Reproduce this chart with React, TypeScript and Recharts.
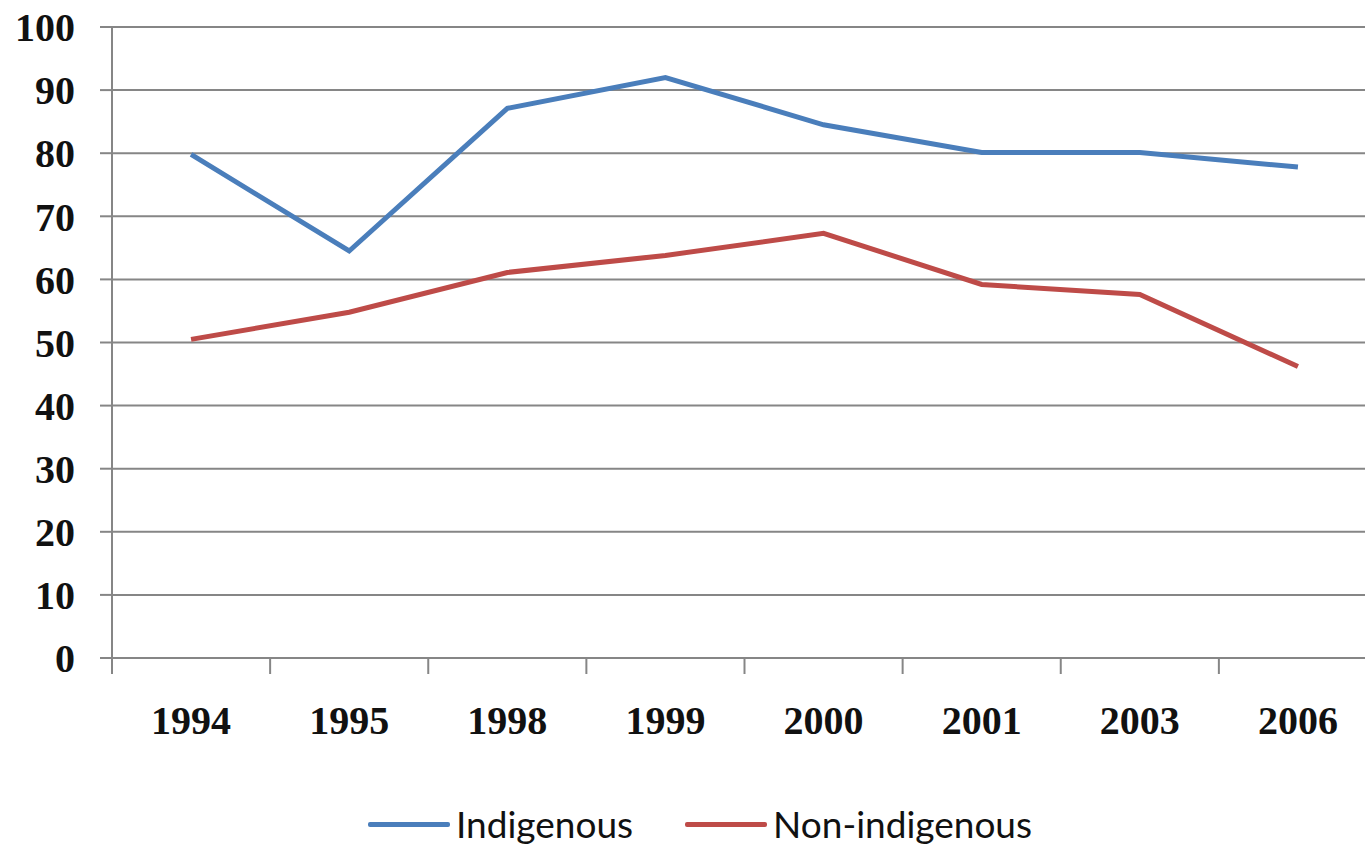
import { CartesianGrid, Line, LineChart, XAxis, YAxis } from 'recharts'

const years = ['1994', '1995', '1998', '1999', '2000', '2001', '2003', '2006']
const indigenous = [79.8, 64.5, 87.1, 92, 84.5, 80.1, 80.1, 77.8]
const nonIndigenous = [50.5, 54.8, 61.1, 63.8, 67.3, 59.2, 57.6, 46.2]
const yTicks = [0, 10, 20, 30, 40, 50, 60, 70, 80, 90, 100]

const series = [
  { key: 'indigenous', name: 'Indigenous', color: '#4a7ebb' },
  { key: 'nonIndigenous', name: 'Non-indigenous', color: '#be4b48' },
]

const data = years.map((year, i) => ({
  year,
  indigenous: indigenous[i],
  nonIndigenous: nonIndigenous[i],
}))

const CHART_W = 1400
const PLOT_LEFT = 112
const PLOT_RIGHT = 23
// half a category slot, so points sit in the middle of each slot
const HALF_SLOT = (CHART_W - PLOT_LEFT - PLOT_RIGHT) / years.length / 2

const axisColor = '#868686'
const tickFont = {
  fontFamily: '"Liberation Serif", serif',
  fontSize: 40,
  fontWeight: 700,
  fill: '#111',
}

// category label centred on the point, tick mark on the slot boundary
function YearTick({ x, y, payload, index }: any) {
  const top = y - 48
  return (
    <g>
      <line x1={x - HALF_SLOT} y1={top} x2={x - HALF_SLOT} y2={top + 16} stroke={axisColor} strokeWidth={2} />
      {index === years.length - 1 && (
        <line x1={x + HALF_SLOT} y1={top} x2={x + HALF_SLOT} y2={top + 16} stroke={axisColor} strokeWidth={2} />
      )}
      <text x={x} y={y} dy="0.71em" textAnchor="middle" {...tickFont}>
        {payload.value}
      </text>
    </g>
  )
}

function ChartLegend() {
  return (
    <div
      style={{
        position: 'absolute',
        top: 803,
        left: 368,
        display: 'flex',
        alignItems: 'center',
        fontFamily: 'Lato, sans-serif',
        fontSize: 37,
        color: '#111',
        lineHeight: '42px',
      }}
    >
      {series.map((s, i) => (
        <div key={s.key} style={{ display: 'flex', alignItems: 'center', marginLeft: i ? 52 : 0 }}>
          <span style={{ width: 82, height: 5, background: s.color, borderRadius: 2, marginRight: 6 }} />
          <span>{s.name}</span>
        </div>
      ))}
    </div>
  )
}

export default function App() {
  return (
    <div
      style={{
        position: 'fixed',
        left: 0,
        top: 0,
        width: 1365,
        height: 848,
        overflow: 'hidden',
        background: '#fff',
      }}
    >
      <LineChart
        width={CHART_W}
        height={848}
        data={data}
        margin={{ top: 27, right: PLOT_RIGHT, left: 0, bottom: 0 }}
      >
        <CartesianGrid vertical={false} stroke={axisColor} strokeWidth={2} />
        <XAxis
          dataKey="year"
          height={190}
          padding={{ left: HALF_SLOT, right: HALF_SLOT }}
          stroke={axisColor}
          strokeWidth={2}
          tickLine={false}
          tickSize={16}
          tickMargin={32}
          tick={<YearTick />}
          interval={0}
        />
        <YAxis
          width={PLOT_LEFT}
          domain={[0, 100]}
          ticks={yTicks}
          stroke={axisColor}
          strokeWidth={2}
          tickSize={12}
          tickMargin={25}
          tick={tickFont}
          interval={0}
        />
        {series.map((s) => (
          <Line
            key={s.key}
            type="linear"
            dataKey={s.key}
            name={s.name}
            stroke={s.color}
            strokeWidth={5}
            dot={false}
            activeDot={false}
            isAnimationActive={false}
          />
        ))}
      </LineChart>
      <ChartLegend />
    </div>
  )
}
